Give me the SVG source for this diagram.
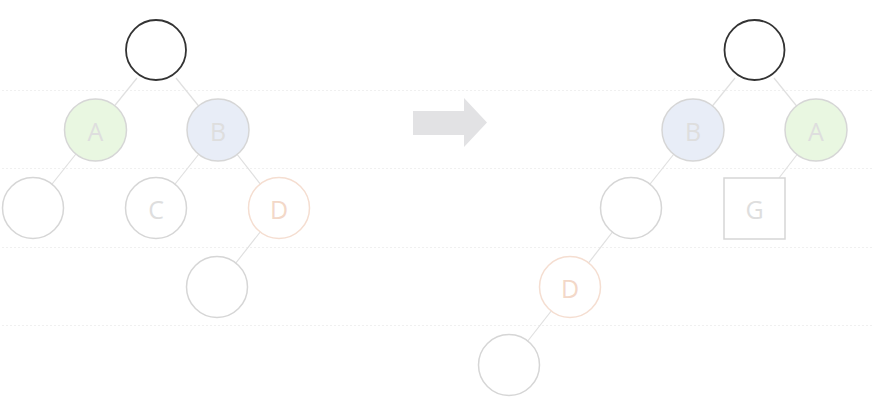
<svg xmlns="http://www.w3.org/2000/svg" width="874" height="415" viewBox="0 0 874 415">
<style>
.guide{stroke:#f0f0f0;stroke-width:1;stroke-dasharray:2 2;fill:none}
.edge{stroke:#e0e0e0;stroke-width:1.2;fill:none}
.root{fill:#fff;stroke:#333;stroke-width:1.8}
.plain{fill:#fff;stroke:#d6d6d6;stroke-width:1.5}
.a{fill:#e9f7e1;stroke:#d6d6d6;stroke-width:1.5}
.b{fill:#e8edf7;stroke:#d6d6d6;stroke-width:1.5}
.d{fill:#fff;stroke:#f5ded1;stroke-width:1.5}
.lbl{font-family:"Open Sans","Liberation Sans",sans-serif;font-size:25px;fill:#dedede;text-anchor:middle;dominant-baseline:central}
.dl{fill:#f3d8c8}
</style>
<g id="guides">
<line class="guide" x1="2" y1="90.5" x2="872" y2="90.5"/>
<line class="guide" x1="2" y1="168.5" x2="872" y2="168.5"/>
<line class="guide" x1="2" y1="247.5" x2="872" y2="247.5"/>
<line class="guide" x1="2" y1="325.5" x2="872" y2="325.5"/>
</g>
<g id="connectors">
<line class="edge" x1="137" y1="78" x2="95" y2="130"/>
<line class="edge" x1="176" y1="78" x2="218" y2="130"/>
<line class="edge" x1="95" y1="130" x2="33" y2="208"/>
<line class="edge" x1="218" y1="130" x2="156" y2="208"/>
<line class="edge" x1="218" y1="130" x2="279" y2="208"/>
<line class="edge" x1="279" y1="208" x2="217" y2="287"/>
<line class="edge" x1="735" y1="78" x2="693" y2="130"/>
<line class="edge" x1="774" y1="78" x2="816" y2="130"/>
<line class="edge" x1="693" y1="130" x2="631" y2="208"/>
<line class="edge" x1="816" y1="130" x2="779" y2="178"/>
<line class="edge" x1="631" y1="208" x2="570" y2="287"/>
<line class="edge" x1="570" y1="287" x2="509" y2="365"/>
</g>
<g id="arrow">
<polygon points="413,111 464,111 464,98 487,122.5 464,147 464,135 413,135" fill="#e2e2e4"/>
</g>
<g id="L-root"><circle class="root" cx="156" cy="50" r="30"/></g>
<g id="L-A"><circle class="a" cx="95.5" cy="130" r="31"/><text class="lbl" x="95.5" y="131">A</text></g>
<g id="L-B"><circle class="b" cx="218" cy="130" r="31"/><text class="lbl" x="218" y="131">B</text></g>
<g id="L-left"><circle class="plain" cx="33" cy="208" r="30.5"/></g>
<g id="L-C"><circle class="plain" cx="156" cy="208" r="30.5"/><text class="lbl" x="156" y="209">C</text></g>
<g id="L-D"><circle class="d" cx="279" cy="208" r="30.5"/><text class="lbl dl" x="279" y="209">D</text></g>
<g id="L-under"><circle class="plain" cx="217" cy="287" r="30.5"/></g>
<g id="R-root"><circle class="root" cx="754.5" cy="50" r="30"/></g>
<g id="R-B"><circle class="b" cx="693" cy="130" r="31"/><text class="lbl" x="693" y="131">B</text></g>
<g id="R-A"><circle class="a" cx="816" cy="130" r="31"/><text class="lbl" x="816" y="131">A</text></g>
<g id="R-left"><circle class="plain" cx="631" cy="208" r="30.5"/></g>
<g id="R-G"><rect class="plain" x="724" y="178" width="61" height="61"/><text class="lbl" x="754.5" y="209">G</text></g>
<g id="R-D"><circle class="d" cx="570" cy="287" r="30.5"/><text class="lbl dl" x="570" y="288">D</text></g>
<g id="R-under"><circle class="plain" cx="509" cy="365" r="30.5"/></g>
</svg>
